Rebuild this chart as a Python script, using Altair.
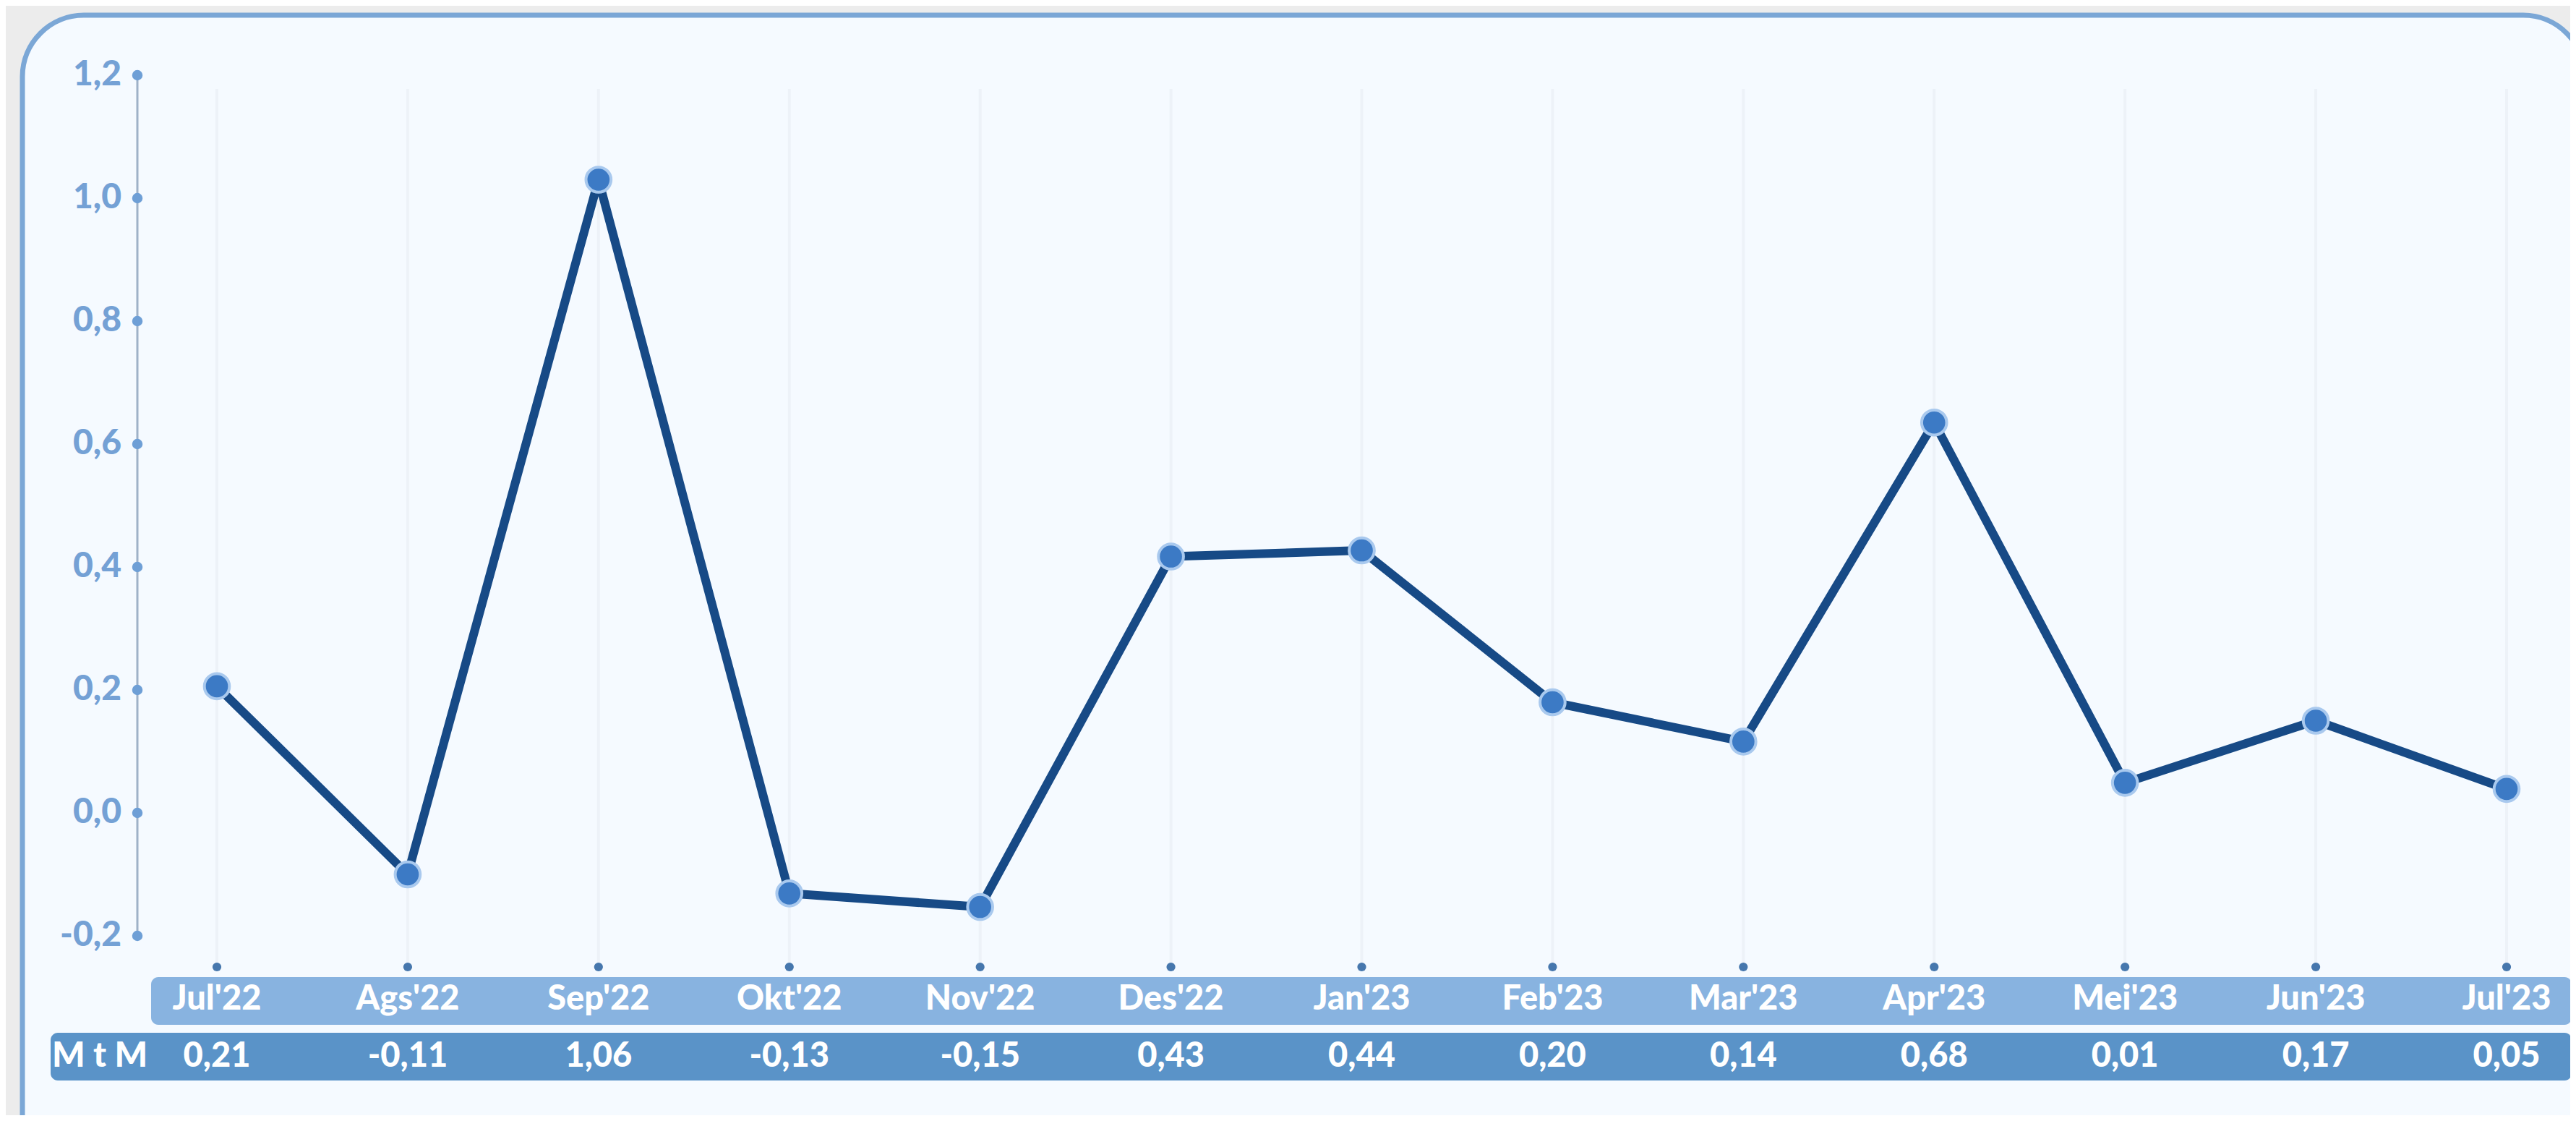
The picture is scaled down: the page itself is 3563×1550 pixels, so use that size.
import altair as alt
import pandas as pd

# ---- data ----
months = ["Jul'22", "Ags'22", "Sep'22", "Okt'22", "Nov'22", "Des'22", "Jan'23",
          "Feb'23", "Mar'23", "Apr'23", "Mei'23", "Jun'23", "Jul'23"]
plotted = [0.206, -0.100, 1.030, -0.131, -0.153, 0.417, 0.427,
           0.180, 0.116, 0.635, 0.049, 0.150, 0.039]
mtm = [0.21, -0.11, 1.06, -0.13, -0.15, 0.43, 0.44, 0.20, 0.14, 0.68, 0.01, 0.17, 0.05]
y_ticks = [1.2, 1.0, 0.8, 0.6, 0.4, 0.2, 0.0, -0.2]

# ---- layout (page pixels -> chart pixels, page margin 8) ----
W, H = 3547, 1534
M = 8
x_first, x_last = 300 - M, 3467 - M          # pixel of first / last month
step = (x_last - x_first) / (len(months) - 1)
x_dom = [-x_first / step, (len(months) - 1) + (W - x_last) / step]
y_zero, per_unit = 1124 - M, 850.0
y_dom = [-(H - y_zero) / per_unit, y_zero / per_unit]

def comma(v, nd):
    return f"{v:.{nd}f}".replace(".", ",")

df = pd.DataFrame({
    "i": list(range(len(months))),
    "month": months,
    "val": plotted,
    "mtm": [comma(v, 2) for v in mtm],
})
ticks = pd.DataFrame({"t": y_ticks, "lab": [comma(v, 1) for v in y_ticks]})
one = pd.DataFrame({"a": [0]})

YS = alt.Scale(domain=y_dom, nice=False, zero=False)
X = alt.X("i:Q", scale=alt.Scale(domain=x_dom, nice=False, zero=False), axis=None)
Y = alt.Y("val:Q", scale=YS, axis=None)
YT = alt.Y("t:Q", scale=YS, axis=None)

FONT = "Lato"
LABEL_BLUE = "#74a1d5"

panel = alt.Chart(one).mark_rect(
    fill="#f5faff", stroke="#7ba7d6", strokeWidth=7, cornerRadius=85
).encode(x=alt.value(31 - M), x2=alt.value(3575 - M), y=alt.value(21 - M), y2=alt.value(1700))

grid = alt.Chart(df).mark_rule(color="#edf2f8", strokeWidth=4).encode(
    x=X, y=alt.value(123 - M), y2=alt.value(1337 - M))

xdots = alt.Chart(df).mark_circle(color="#4677ad", opacity=1, size=150).encode(
    x=X, y=alt.value(1337 - M))

month_band = alt.Chart(one).mark_rect(fill="#88b3e0", cornerRadius=10).encode(
    x=alt.value(209 - M), x2=alt.value(3557 - M), y=alt.value(1351 - M), y2=alt.value(1417 - M))

mtm_band = alt.Chart(one).mark_rect(fill="#5a93c8", cornerRadius=10).encode(
    x=alt.value(70 - M), x2=alt.value(3557 - M), y=alt.value(1428 - M), y2=alt.value(1494 - M))

yaxis = alt.Chart(ticks).mark_rule(color="#9fb2c8", strokeWidth=3).encode(
    x=alt.value(190 - M), y=alt.Y("max(t):Q", scale=YS, axis=None), y2="min(t):Q")

ydots = alt.Chart(ticks).mark_circle(color="#6e9fd6", opacity=1, size=210).encode(
    x=alt.value(190 - M), y=YT)

ylabels = alt.Chart(ticks).mark_text(
    align="right", baseline="middle", font=FONT, fontWeight=900, fontSize=48, color=LABEL_BLUE
).encode(x=alt.value(168 - M), y=YT, text="lab:N")

line = alt.Chart(df).mark_line(color="#174a86", strokeWidth=12, strokeJoin="round", strokeCap="round").encode(
    x=X, y=Y, order="i:Q")

pts = alt.Chart(df).mark_point(
    filled=True, fill="#3c7ac5", stroke="#a9c9ee", strokeWidth=4, size=1200, opacity=1, fillOpacity=1
).encode(x=X, y=Y)

mlabels = alt.Chart(df).mark_text(
    align="center", baseline="middle", font=FONT, fontWeight=900, fontSize=47, color="white"
).encode(x=X, y=alt.value(1382 - M), text="month:N")

vlabels = alt.Chart(df).mark_text(
    align="center", baseline="middle", font=FONT, fontWeight=900, fontSize=47, color="white"
).encode(x=X, y=alt.value(1461 - M), text="mtm:N")

mtm_title = alt.Chart(one).mark_text(
    align="left", baseline="middle", font=FONT, fontWeight=900, fontSize=48, color="white"
).encode(x=alt.value(72 - M), y=alt.value(1461 - M), text=alt.value("M t M"))

chart = alt.layer(
    panel, grid, xdots, month_band, mtm_band, yaxis, ydots, ylabels, line, pts,
    mlabels, vlabels, mtm_title
).properties(
    width=W, height=H,
    autosize=alt.AutoSizeParams(type="none"),
    padding=0,
    background="#ececec",
).configure_view(stroke=None)

chart.save("out.html", embed_options={"renderer": "svg", "actions": False})
